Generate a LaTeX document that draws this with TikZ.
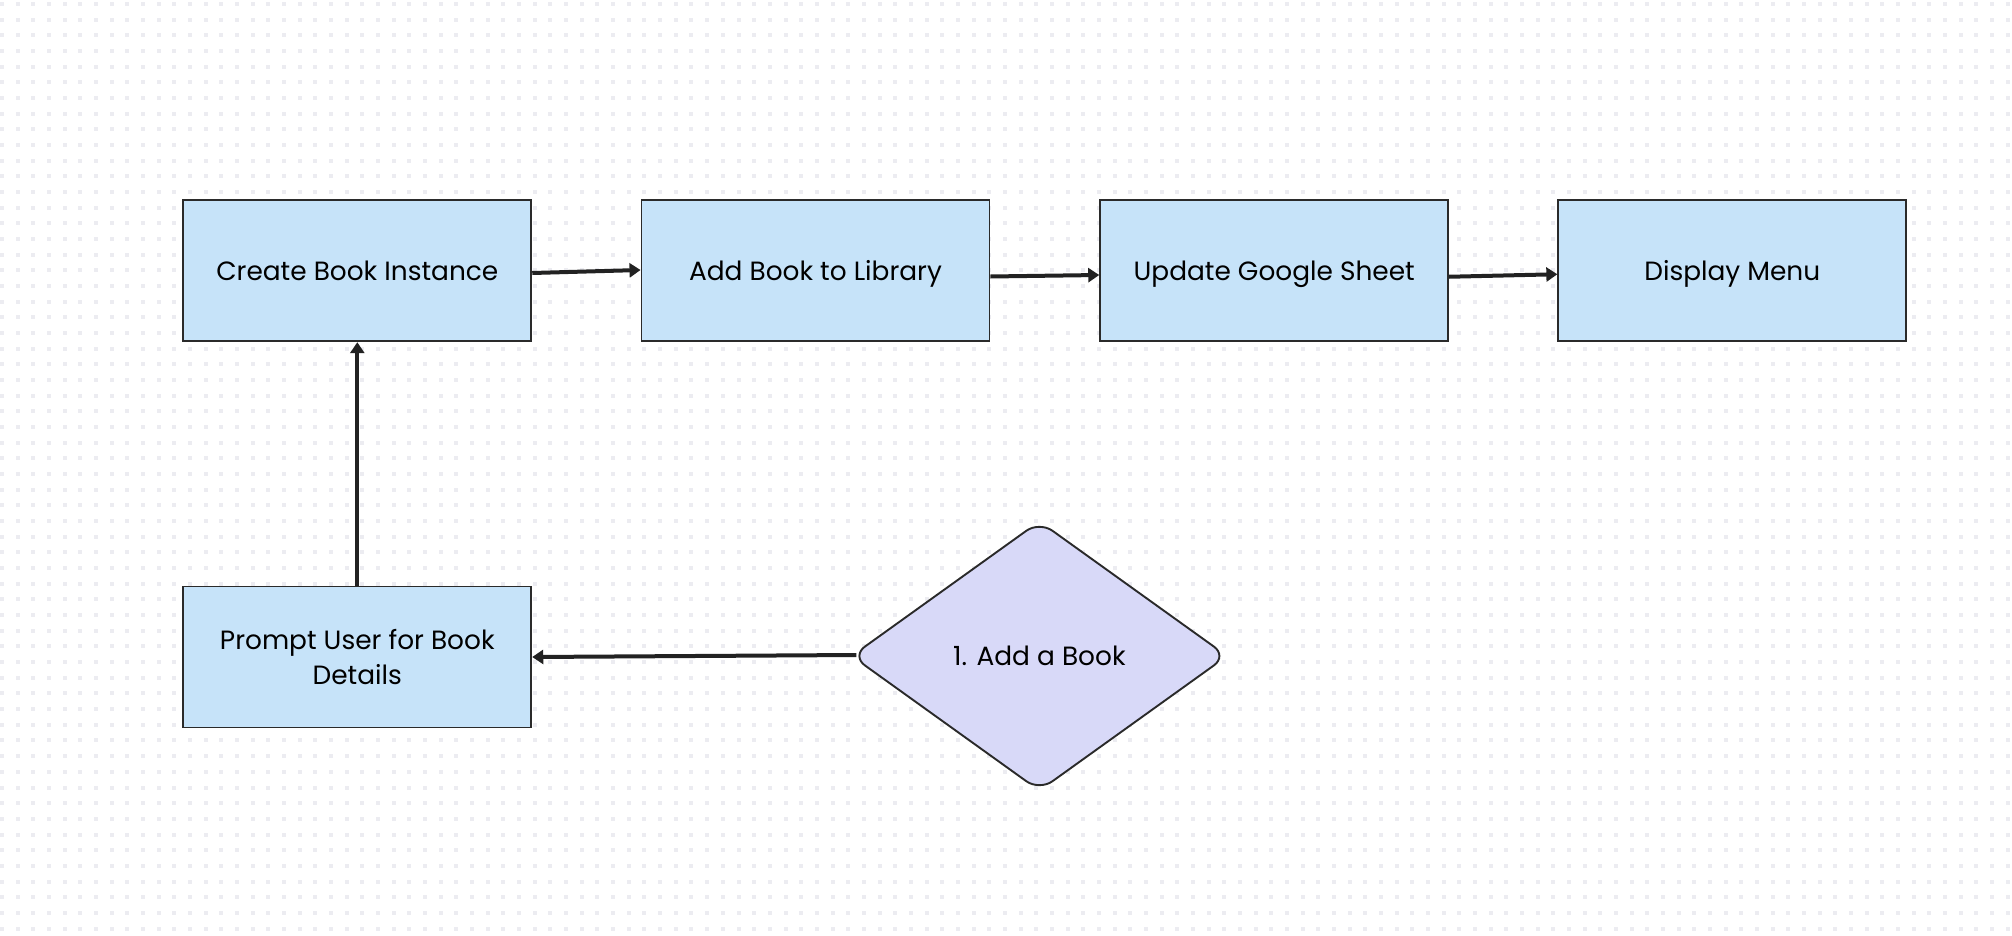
\documentclass[tikz,border=0pt]{standalone}
\usepackage{fontspec}
\setmainfont{Poppins}
\usetikzlibrary{arrows.meta,shapes.geometric}
\definecolor{boxblue}{HTML}{C6E3F9}
\definecolor{diafill}{HTML}{D8D9F8}
\definecolor{edgec}{HTML}{2A2A2A}
\definecolor{arrc}{HTML}{222222}
\definecolor{dotc}{HTML}{ECECF1}
\tikzset{
  stepbox/.style={rectangle, draw=edgec, line width=1.9pt, fill=boxblue,
    minimum width=348pt, minimum height=141pt, inner sep=0pt, align=center,
    font=\fontsize{26.4}{35}\selectfont},
  oneline/.style={text height=20pt, text depth=1.5pt},
  choice/.style={diamond, draw=edgec, line width=1.9pt, fill=diafill,
    minimum width=376pt, minimum height=270pt, inner sep=0pt, rounded corners=16pt,
    text height=20pt, text depth=1.5pt,
    font=\fontsize{26.4}{35}\selectfont},
  conn/.style={draw=arrc, line width=4pt, -{Triangle[length=11pt,width=14pt]}}
}
\begin{document}
\begin{tikzpicture}[x=1pt,y=-1pt]
\useasboundingbox (0,0) rectangle (2012,936);
\fill[white] (0,0) rectangle (2012,936);
\foreach \i in {0,...,128}{
  \foreach \j in {0,...,59}{
    \fill[dotc] ({15.67*\i},{2+15.67*\j}) rectangle +(4,4);
  }
}
\node[stepbox,oneline] (c1) at (357.3,270.75) {Create Book Instance};
\node[stepbox,oneline] (c2) at (815.5,270.75) {Add Book to Library};
\node[stepbox,oneline] (c3) at (1274.2,270.75) {Update Google Sheet};
\node[stepbox,oneline] (c4) at (1732.3,270.75) {Display Menu};
\node[stepbox] (p) at (357.3,657) {Prompt User for Book\\Details};
\node[choice] (d) at (1039.4,656) {1. Add a Book};
\draw[conn] ([yshift=-2.25pt]c1.east) -- ([yshift=0.75pt]c2.west);
\draw[conn] ([yshift=-5.75pt]c2.east) -- ([yshift=-4.25pt]c3.west);
\draw[conn] ([yshift=-6pt]c3.east) -- ([yshift=-3.5pt]c4.west);
\draw[conn] (p.north) -- (c1.south);
\draw[conn] ([xshift=6pt,yshift=1pt]d.west) -- (p.east);
\end{tikzpicture}
\end{document}
